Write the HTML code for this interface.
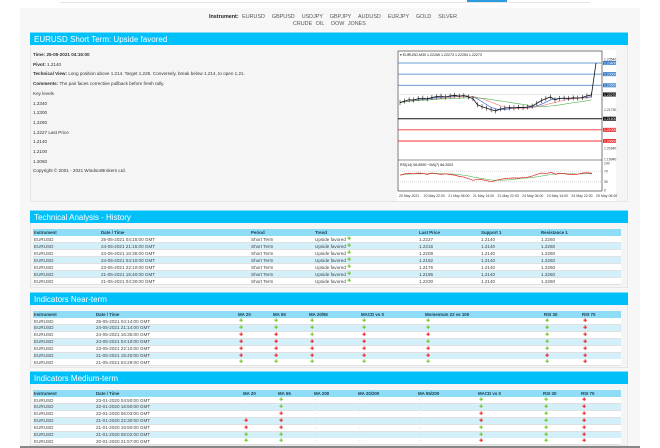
<!DOCTYPE html>
<html><head><meta charset="utf-8">
<style>
*{margin:0;padding:0;box-sizing:border-box}
body{width:660px;height:448px;overflow:hidden;background:#fff;font-family:"Liberation Sans",sans-serif;color:#333;position:relative}
.abs{position:absolute}
.wrap{left:20px;top:8px;width:620px;height:440px;background:#f7f7f7}
.hdr{left:30px;width:598px;height:13px;background:#00c0fa;color:#fff;font-size:8px;line-height:13px;padding-left:4px;border-top:1px solid #7fdcfb}
.panel{left:30px;width:598px;background:#f5f5f5;border:1px solid #e6e6e6;border-top:none}
.t{font-size:4.6px;white-space:nowrap;line-height:6px}
.row{position:absolute;left:33px;width:588px;height:7px;border-bottom:1px solid #e0e0e0}
.mk{position:absolute;font-size:5px;line-height:7px;font-family:"DejaVu Sans",sans-serif}
</style></head><body>
<div class="abs" style="left:60px;top:2px;width:530px;height:1px;background:#e4e4e4"></div>
<div class="abs" style="left:467px;top:0;width:40px;height:2px;background:#2b9be0"></div>
<div class="abs wrap"></div>

<div class="abs t" style="left:209px;top:14px;font-size:5.4px;color:#555;word-spacing:2px"><b style="color:#222">Instrument:</b> <span>EURUSD</span> &nbsp;<span>GBPUSD</span> &nbsp;<span>USDJPY</span> &nbsp;<span>GBPJPY</span> &nbsp;<span>AUDUSD</span> &nbsp;<span>EURJPY</span> &nbsp;<span>GOLD</span> &nbsp;<span>SILVER</span></div>
<div class="abs t" style="left:293px;top:21px;font-size:5.4px;color:#555;word-spacing:2px"><span>CRUDE OIL</span> &nbsp;<span>DOW JONES</span></div>

<div class="abs hdr" style="top:32px">EURUSD Short Term: Upside favored</div>
<div class="abs panel" style="top:45px;height:157px"></div>
<div class="abs t" style="left:33px;top:50px;line-height:9.7px">
<div><b>Time: 25-05-2021 04:15:00</b></div>
<div><b>Pivot:</b> 1.2140</div>
<div><b>Technical View:</b> Long position above 1.214. Target 1.226. Conversely, break below 1.214, to open 1.21.</div>
<div><b>Comments:</b> The pair faces corrective pullback before fresh rally.</div>
<div>Key levels</div><div>1.2340</div><div>1.2300</div><div>1.2260</div><div>1.2227 Last Price</div><div>1.2140</div><div>1.2100</div><div>1.2060</div>
<div>Copyright © 2001 - 2021 WindsorBrokers Ltd.</div>
</div>

<svg class="abs" id="chart" style="left:0;top:0" width="660" height="448"></svg>

<div class="abs hdr" style="top:210px">Technical Analysis - History</div>
<div class="abs panel" style="top:223px;height:65px"></div>
<div class="abs hdr" style="top:292px">Indicators Near-term</div>
<div class="abs panel" style="top:305px;height:63px"></div>
<div class="abs hdr" style="top:371px">Indicators Medium-term</div>
<div class="abs panel" style="top:384px;height:62px"></div>
<div class="abs" style="left:20px;top:446px;width:620px;height:2px;background:#888"></div>
<div id="tables"></div>

<script>
// ---- chart data ----
const priceValues=[1.2198,1.2203,1.2208,1.2207,1.2212,1.2214,1.2211,1.2216,1.2219,1.2221,1.2218,1.2222,1.2224,1.2221,1.2223,1.2218,1.2212,1.2190,1.2183,1.2178,1.2172,1.2168,1.2175,1.2178,1.2180,1.2179,1.2181,1.2180,1.2182,1.2185,1.2195,1.2205,1.2212,1.2218,1.2208,1.2213,1.2214,1.2213,1.2215,1.2214,1.2216,1.2222,1.2225,1.2340];
const rsiValues=[55,60,62,60,63,61,58,63,60,58,60,57,55,50,48,42,36,40,38,35,30,36,40,42,44,45,44,46,48,52,58,63,60,66,58,62,60,58,57,59,63,64,62];
const levelValues=[1.2340,1.2300,1.2260];
const supportValues=[1.2100,1.2060];
const plainTicks=[1.2354,1.2173,1.2034,1.1994];
const tagTicks=[1.2340,1.2300,1.2260,1.2227,1.2140,1.2100,1.2060];
const xTickLabels=["20 May 2021","20 May 22:00","21 May 06:00","21 May 14:00","21 May 22:00","24 May 06:00","24 May 14:00","24 May 22:00","25 May 06:00"];

const svg=document.getElementById('chart');
const NS="http://www.w3.org/2000/svg";
const X0=398,X1=602;
const py=v=>63+(1.2340-v)*78/0.028;
const px=i=>X0+2+i*(X1-X0-8)/(priceValues.length-1);
const ry=v=>190-v*(190-163)/100;
function mk(tag,attrs,parent){const e=document.createElementNS(NS,tag);for(const k in attrs)e.setAttribute(k,attrs[k]);(parent||svg).appendChild(e);return e;}
let e;
e=mk('rect',{x:397,y:50,width:219,height:151,fill:'#fff'});


e=mk('rect',{x:X0,y:51,width:X1-X0,height:140,fill:'none',stroke:'#222','stroke-width':0.6});


e=mk('line',{x1:X0,x2:X1,y1:py(1.2140),y2:py(1.2140),stroke:'#111','stroke-width':1});


e=mk('line',{x1:X0,x2:X1,y1:160,y2:160,stroke:'#222','stroke-width':0.6});


levelValues.forEach(v=>{
  e=mk('line',{x1:X0,x2:X1,y1:py(v),y2:py(v),stroke:'#3a7ec8','stroke-width':0.8});
  
  
});
supportValues.forEach(v=>{
  e=mk('line',{x1:X0,x2:X1,y1:py(v),y2:py(v),stroke:'#f03030','stroke-width':0.9});
  
  
});
e=mk('line',{x1:X0,x2:X1,y1:py(1.2227),y2:py(1.2227),stroke:'#ccc','stroke-width':0.5});


function ma(arr,n){return arr.map((v,i)=>{const s=arr.slice(Math.max(0,i-n+1),i+1);return s.reduce((a,b)=>a+b,0)/s.length;});}
const base=priceValues.slice(0,-1);
[[ma(base,4),'#3355dd','ma-fast'],[ma(base,8),'#e87a7a','ma-mid'],[ma(base,16),'#55b055','ma-slow']].forEach(([arr,c,n])=>{
  e=mk('polyline',{points:arr.map((v,i)=>px(i)+','+py(v)).join(' '),fill:'none',stroke:c,'stroke-width':0.6});
  
  
});
// candles-ish ticks
priceValues.slice(0,-1).forEach((v,i)=>{
  e=mk('line',{x1:px(i),x2:px(i),y1:py(v)-2.5,y2:py(v)+2.5,stroke:'#222','stroke-width':0.6});
  
  
});
e=mk('polyline',{points:priceValues.map((v,i)=>px(i)+','+py(v)).join(' '),fill:'none',stroke:'#111','stroke-width':0.8});


plainTicks.forEach(v=>{
  e=mk('text',{x:604,y:py(v)+1.3,'font-size':3.4,fill:'#333','font-family':'Liberation Sans'});
  e.textContent=v.toFixed(5);
  
  
});
tagTicks.forEach(v=>{
  const c=v>1.2250?'#3a7ec8':(v>1.2120?'#111':'#f03030');
  e=mk('rect',{x:603,y:py(v)-2,width:13,height:4,fill:c});
  
  
  e=mk('text',{x:604,y:py(v)+1.3,'font-size':3.4,fill:'#fff','font-family':'Liberation Sans'});
  e.textContent=v.toFixed(5);
  
  
});
[70,30].forEach(v=>{
  e=mk('line',{x1:X0,x2:X1,y1:ry(v),y2:ry(v),stroke:'#999','stroke-width':0.4,'stroke-dasharray':'1,1'});
  
  
});
const rx=i=>X0+2+i*(X1-X0-12)/(rsiValues.length-1);
e=mk('polyline',{points:ma(rsiValues,6).map((v,i)=>rx(i)+','+ry(v)).join(' '),fill:'none',stroke:'#55b055','stroke-width':0.6});


e=mk('polyline',{points:rsiValues.map((v,i)=>rx(i)+','+ry(v)).join(' '),fill:'none',stroke:'#e02020','stroke-width':0.7});


[100,70,30,0].forEach(v=>{
  e=mk('text',{x:604,y:ry(v)+1.3,'font-size':3.4,fill:'#333','font-family':'Liberation Sans'});
  e.textContent=v;
  
  
});
xTickLabels.forEach((t,i)=>{
  e=mk('text',{x:X0+1+i*(X1-X0-4)/(xTickLabels.length-1)*0.985,y:197,'font-size':3.5,fill:'#333','font-family':'Liberation Sans'});
  e.textContent=t;
  
  
});
e=mk('text',{x:400,y:56,'font-size':3.6,fill:'#111','font-family':'Liberation Sans'});
e.textContent='▾ EURUSD,M30  1.22265 1.22273 1.22254 1.22273';


e=mk('text',{x:400,y:166,'font-size':3.6,fill:'#111','font-family':'Liberation Sans'});
e.textContent='RSI(14) 65.8590  ~MA(7) 66.2002';



// ---- tables ----
const histCols=["Instrument","Date / Time","Period","Trend","Last Price","Support 1","Resistance 1"];
const histX=[34,101,251,315,419,481,541];
const histDates=["25-05-2021 04:15:00 GMT","24-05-2021 21:15:00 GMT","24-05-2021 16:35:00 GMT","24-05-2021 04:10:00 GMT","23-05-2021 22:10:00 GMT","21-05-2021 15:40:00 GMT","21-05-2021 04:30:00 GMT"];
const histLast=["1.2227","1.2215","1.2208","1.2182","1.2176","1.2185","1.2230"];
const nearCols=["Instrument","Date / Time","MA 20","MA 55","MA 20/55","MACD vs 0","Momentum 22 vs 100","RSI 30","RSI 70"];
const nearX=[34,96,238,273,309,361,425,544,582];
const nearDates=["25-05-2021 04:14:00 GMT","24-05-2021 21:14:00 GMT","24-05-2021 16:35:00 GMT","24-05-2021 04:10:00 GMT","23-05-2021 22:10:00 GMT","21-05-2021 15:40:00 GMT","21-05-2021 04:29:00 GMT"];
const nearSig=["ggggggr","ggggggr","rrgrrgr","rrrrggr","rrrrrgr","rrrrrrr","ggggggr"];
const medCols=["Instrument","Date / Time","MA 20","MA 55","MA 200","MA 20/200","MA 55/200","MACD vs 0","RSI 30","RSI 70"];
const medX=[34,96,243,278,314,358,418,478,543,581];
const medDates=["23-01-2020 04:50:00 GMT","22-01-2020 16:50:00 GMT","22-01-2020 06:03:00 GMT","21-01-2020 22:30:00 GMT","21-01-2020 16:50:00 GMT","21-01-2020 06:02:00 GMT","20-01-2020 21:57:00 GMT"];
const medSig=["-g---ggr","-g---ggr","-r---rgr","rr---rgr","rr---ggr","gg---ggr","gg---rgr"];

const host=document.getElementById('tables');
function div(cls,style,txt){const d=document.createElement('div');d.className=cls;d.style.cssText=style;if(txt!==undefined)d.textContent=txt;host.appendChild(d);return d;}
function table(top,cols,xs,name){
  let h=div('row','top:'+top+'px;background:#8fdcf6;border:none');
  
  
  cols.forEach((c,i)=>{
    let t=div('abs t','left:'+xs[i]+'px;top:'+(top+0.5)+'px;font-weight:bold;color:#1a3a4a;font-size:4.4px',c);
    
    
  });
}
function rowBg(top,i,name){
  let r=div('row','top:'+top+'px;background:'+(i%2?'#d3eff9':'#fff'));
  
  
}
function cell(x,y,txt){
  let t=div('abs t','left:'+x+'px;top:'+(y+0.5)+'px;color:#444',txt);
  
  
}
function marker(x,y,s){
  let m;
  if(s==='-'){m=div('mk','left:'+x+'px;top:'+y+'px;color:#bbb;font-size:4.5px','-');}
  else{m=div('mk','left:'+x+'px;top:'+y+'px;color:'+(s==='g'?'#66c21a':'#ee1111'),'✚');}
  
  
}
table(229,histCols,histX,'history');
histDates.forEach((d,i)=>{const y=236+i*7;rowBg(y,i,'history');
  cell(34,y,'EURUSD');cell(101,y,d);cell(251,y,'Short Term');cell(315,y,'Upside favored');marker(347,y,'g');
  cell(419,y,histLast[i]);cell(481,y,'1.2140');cell(541,y,'1.2260');});
table(311,nearCols,nearX,'near-term');
nearDates.forEach((d,i)=>{const y=318+i*6.9;rowBg(y,i,'near-term');
  cell(34,y,'EURUSD');cell(96,y,d);
  for(let k=0;k<7;k++)marker(nearX[k+2]+1,y,nearSig[i][k]);});
table(390,medCols,medX,'medium-term');
medDates.forEach((d,i)=>{const y=397+i*6.9;rowBg(y,i,'medium-term');
  cell(34,y,'EURUSD');cell(96,y,d);
  for(let k=0;k<8;k++)marker(medX[k+2]+1,y,medSig[i][k]);});
</script>
</body></html>
